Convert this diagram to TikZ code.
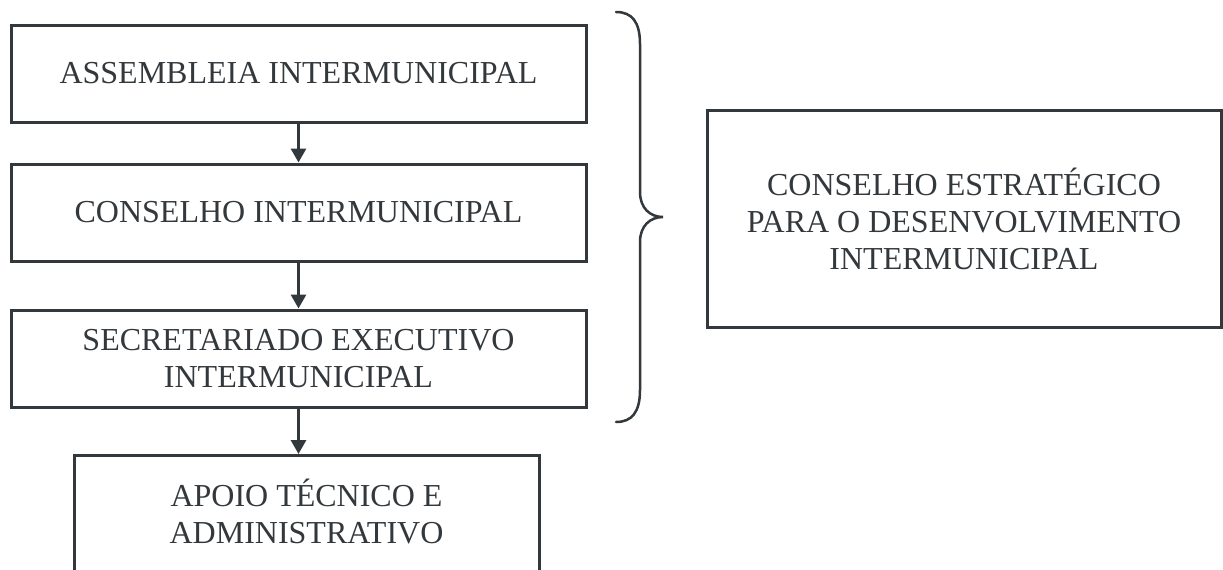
\documentclass[tikz,border=0pt]{standalone}
\usepackage{fontspec}
\setmainfont{Liberation Serif}
\usetikzlibrary{arrows.meta}
\definecolor{ink}{RGB}{50,56,60}
\begin{document}
\begin{tikzpicture}[x=1pt,y=-1pt,
  box/.style={draw=ink, line width=3pt, inner sep=0pt, align=center, text=ink,
              font=\fontsize{32}{37}\selectfont},
  label/.style={inner sep=0pt, align=center, text=ink, font=\fontsize{32}{37}\selectfont},
  link/.style={draw=ink, line width=3pt, -{Triangle[width=15pt,length=14pt]}},
  bracepath/.style={draw=ink, line width=2.5pt, line cap=round}]
\useasboundingbox (0,0) rectangle (1223,570);
\clip (0,0) rectangle (1223,570);
\fill[white] (0,0) rectangle (1223,570);

\node[box, minimum width=575pt, minimum height=97pt] (b1) at (298.5,73.5) {ASSEMBLEIA INTERMUNICIPAL};
\node[box, minimum width=575pt, minimum height=97pt] (b2) at (298.5,212.5) {CONSELHO INTERMUNICIPAL};
\node[box, minimum width=575pt, minimum height=97pt] (b3) at (298.5,358.5) {SECRETARIADO EXECUTIVO\\INTERMUNICIPAL};
\node[box, minimum width=465pt, minimum height=160pt, anchor=north] (b4) at (306.5,454) {};
\node[label] (t4) at (306.5,512) {APOIO TÉCNICO E\\ADMINISTRATIVO};

\node[box, minimum width=514pt, minimum height=217pt] (cs) at (964,218.5) {CONSELHO ESTRATÉGICO\\PARA O DESENVOLVIMENTO\\INTERMUNICIPAL};

\draw[link] (b1.south) -- (b2.north);
\draw[link] (b2.south) -- (b3.north);
\draw[link] (b3.south) -- (b3.south |- b4.north);

\draw[bracepath] (616,12) .. controls (632,12) and (640,22) .. (640,44)
  -- (640,192) .. controls (640,208) and (650,217) .. (663,217)
  .. controls (650,217) and (640,226) .. (640,242)
  -- (640,390) .. controls (640,412) and (632,422) .. (616,422);
\end{tikzpicture}
\end{document}
